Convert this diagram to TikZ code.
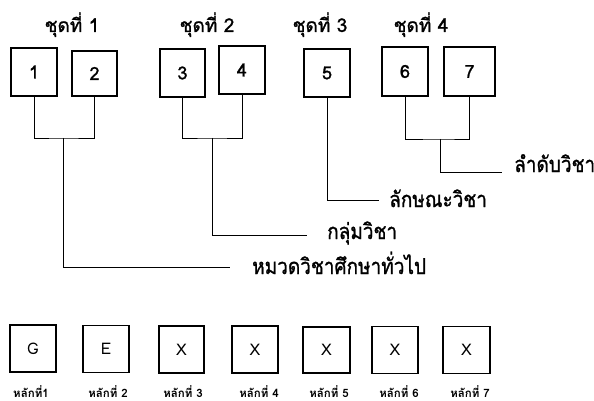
\documentclass[tikz,border=0pt]{standalone}
\usepackage{fontspec}
\setmainfont[Script=Thai]{Loma}
\newfontfamily\thk[Script=Thai,FakeBold=1.2]{Loma}
\newcommand{\tallthai}[1]{\scalebox{1}[1.15]{#1}}
\begin{document}
\begin{tikzpicture}[x=1pt,y=-1pt,
  box/.style={draw, line width=1.3pt, minimum width=46pt, minimum height=48pt, inner sep=0pt, font=\thk\fontsize{18}{18}\selectfont},
  sbox/.style={draw, line width=1.3pt, minimum width=46pt, minimum height=47pt, inner sep=0pt, font=\fontsize{16}{16}\selectfont},
  conn/.style={line width=0.9pt},
  ttl/.style={anchor=base, font=\thk\fontsize{19}{19}\selectfont, inner sep=0pt},
  lbl/.style={anchor=base west, font=\thk\fontsize{19}{19}\selectfont, inner sep=0pt},
  dig/.style={anchor=base, font=\bfseries\fontsize{11.5}{11.5}\selectfont, inner sep=0pt}]
\useasboundingbox (0,0) rectangle (594,401);
% titles
\node[ttl] (t1) at (72,32) {ชุดที่ 1};
\node[ttl] (t2) at (207,32) {ชุดที่ 2};
\node[ttl] (t3) at (320,32) {ชุดที่ 3};
\node[ttl] (t4) at (421,32) {ชุดที่ 4};
% top boxes
\node[box] (b1) at (34,72) {1};
\node[box, minimum width=45pt, minimum height=45pt] (b2) at (94.5,73.5) {2};
\node[box, minimum width=45pt] (b3) at (182.5,73) {3};
\node[box] (b4) at (242,70) {4};
\node[box] (b5) at (327,73) {5};
\node[box, minimum height=49pt] (b6) at (405,71.5) {6};
\node[box, minimum width=51pt, minimum height=49pt] (b7) at (469.5,71.5) {7};
% joints and ends
\coordinate (j12) at (63,138);
\coordinate (j34) at (212,138);
\coordinate (j67) at (440,139);
\coordinate (e1) at (230,267);
\coordinate (e2) at (307,235);
\coordinate (e3) at (379,200);
\coordinate (e4) at (502,172);
\draw[conn] (b1.south) |- (j12) -| (b2.south);
\draw[conn] (b3.south) |- (j34) -| (b4.south);
\draw[conn] (b6.south) |- (j67) -| (b7.south);
\draw[conn] (j12) |- (e1);
\draw[conn] (j34) |- (e2);
\draw[conn] (b5.south) |- (e3);
\draw[conn] (j67) |- (e4);
% labels
\node[lbl] (l4) at (514,172) {\tallthai{ลำดับวิชา}};
\node[lbl] (l3) at (389,207) {\tallthai{ลักษณะวิชา}};
\node[lbl] (l2) at (327,239) {\tallthai{กลุ่มวิชา}};
\node[lbl] (l1) at (252,274) {\tallthai{หมวดวิชาศึกษาทั่วไป}};
% bottom boxes
\node[sbox] (d1) at (33,348.5) {G};
\node[sbox] (d2) at (106,349) {E};
\node[sbox, minimum width=45pt] (d3) at (181.5,349.5) {X};
\node[sbox] (d4) at (255,349.5) {X};
\node[sbox, minimum width=47pt, minimum height=46pt] (d5) at (326.5,350) {X};
\node[sbox] (d6) at (395,350) {X};
\node[sbox, minimum width=47pt] (d7) at (466.5,350) {X};
% bottom labels
\node[dig] (h1) at (31,397) {หลักที่1};
\node[dig] (h2) at (108,397) {หลักที่ 2};
\node[dig] (h3) at (183,397) {หลักที่ 3};
\node[dig] (h4) at (259,397) {หลักที่ 4};
\node[dig] (h5) at (329,397) {หลักที่ 5};
\node[dig] (h6) at (399,397) {หลักที่ 6};
\node[dig] (h7) at (470,397) {หลักที่ 7};
\end{tikzpicture}
\end{document}
